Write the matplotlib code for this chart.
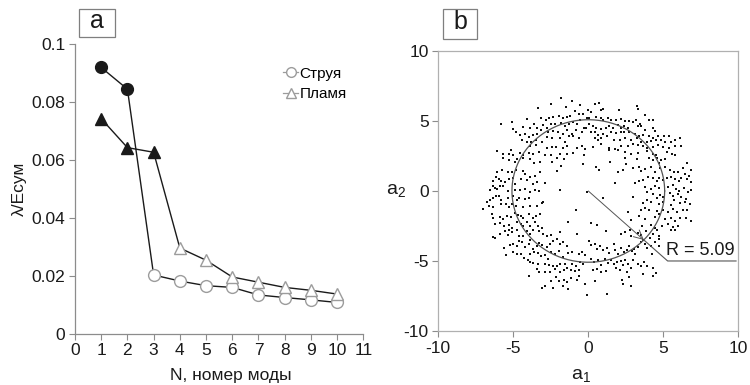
import matplotlib
matplotlib.use("Agg")
import matplotlib.pyplot as plt
from matplotlib.patches import Rectangle
import numpy as np

plt.rcParams['font.family'] = ['Liberation Sans', 'DejaVu Sans']
plt.rcParams['mathtext.fontset'] = 'custom'
plt.rcParams['mathtext.rm'] = 'Liberation Sans'
plt.rcParams['axes.unicode_minus'] = False

# ---- panel a: normalised eigenvalues per mode ----
modes = [1, 2, 3, 4, 5, 6, 7, 8, 9, 10]
jet = [0.0920, 0.0845, 0.0203, 0.0182, 0.0166, 0.0160, 0.0134, 0.0125, 0.0117, 0.0108]
flame = [0.0743, 0.0643, 0.0627, 0.0296, 0.0254, 0.0196, 0.0178, 0.0160, 0.0150, 0.0137]
jet_filled = 2      # leading modes drawn with solid markers
flame_filled = 3
legend_labels = ["Струя", "Пламя"]

# ---- panel b: phase portrait of the first two mode amplitudes ----
radius = 5.09
scatter_points = [
    (-1.82,6.62),(-1.07,6.43),(-2.49,6.19),(-3.35,5.91),(-1.51,6.0),(-0.55,6.14),(-0.91,5.71),(-4.11,5.14),
    (-5.09,4.95),(-5.84,4.81),(-3.15,5.19),(-2.84,5.09),(-2.6,5.24),(-2.33,5.29),(-1.97,5.38),(-1.67,5.19),
    (-1.4,5.29),(-1.22,5.38),(-0.64,5.48),(-0.33,5.52),(-0.11,5.19),(-4.37,4.55),(-3.89,4.52),(-3.64,4.76),
    (-3.4,4.52),(-3.04,4.71),(-2.77,4.48),(-2.47,4.76),(-2.2,4.81),(-1.8,4.86),(-1.53,4.66),(-1.27,4.81),
    (-1.04,4.95),(-0.77,4.76),(-0.55,5.09),(-0.29,4.52),(-5.0,4.43),(-4.82,4.24),(-4.55,4.0),(-4.24,4.05),
    (-3.97,3.86),(-3.67,4.0),(-3.4,4.1),(-3.17,4.33),(-2.69,4.19),(-2.33,4.29),(-2.02,4.24),(-1.71,4.05),
    (-1.4,4.33),(-1.09,4.1),(-0.82,4.33),(-0.44,4.24),(-0.15,4.48),(-4.42,3.62),(-4.11,3.52),(-3.8,3.48),
    (-3.49,3.62),(-3.09,3.52),(-2.73,3.86),(-2.42,3.81),(-1.89,3.76),(-1.57,3.52),(-1.31,3.95),(-1.0,3.95),
    (-0.64,3.76),(-3.89,3.19),(-3.49,3.29),(-2.77,3.1),(-2.42,3.14),(-2.15,3.14),(-1.71,3.05),(-1.4,3.19),
    (-0.77,3.1),(-0.42,3.24),(-0.2,3.0),(-6.11,2.86),(-5.67,2.67),(-5.31,2.67),(-5.17,2.9),(-5.0,2.57),
    (-4.55,2.71),(-4.33,2.57),(-3.93,2.71),(-3.67,2.67),(-3.31,2.76),(-2.87,2.57),(-2.47,2.57),(-1.89,2.62),
    (-1.4,2.67),(-1.0,2.71),(-0.29,2.57),
    (0.42,6.19),(0.73,6.29),(0.96,5.86),(0.87,5.76),(2.03,5.76),(3.23,6.1),(3.31,5.86),(3.76,5.43),
    (-0.02,5.76),(0.2,5.67),(0.07,5.19),(0.51,5.29),(0.83,5.19),(1.0,5.09),(1.31,5.19),(1.53,5.09),
    (1.85,5.09),(2.16,5.14),(2.43,5.0),(2.73,5.0),(2.96,4.9),(3.18,5.09),(3.45,4.76),(3.53,4.66),
    (4.03,5.09),(4.29,5.09),(0.07,4.76),(0.29,4.62),(0.51,4.52),(0.87,4.43),(1.18,4.52),(1.36,4.62),
    (1.62,4.52),(1.98,4.71),(2.16,4.48),(2.38,4.62),(2.65,4.48),(3.31,4.66),(3.76,4.38),(4.33,4.48),
    (4.43,4.29),(0.2,4.19),(0.42,4.24),(0.65,4.0),(1.0,4.05),(1.22,3.95),(1.53,4.24),(1.85,4.14),
    (2.2,4.24),(2.38,4.19),(2.73,4.24),(3.09,4.1),(3.36,3.95),(3.67,4.0),(4.07,3.95),(4.33,3.81),
    (4.65,3.95),(5.05,3.95),(5.4,3.95),(6.11,3.81),(0.42,3.76),(0.65,3.67),(0.87,3.81),(1.71,3.62),
    (2.11,3.67),(2.47,3.76),(2.82,3.67),(3.23,3.81),(3.53,3.52),(3.89,3.52),(4.16,3.57),(4.51,3.62),
    (4.83,3.62),(5.13,3.52),(5.49,3.48),(5.76,3.62),(0.29,3.14),(0.87,3.38),(1.4,3.1),(1.76,3.0),
    (2.2,3.19),(2.65,3.24),(2.96,3.33),(3.31,3.29),(3.63,3.19),(3.89,3.1),(4.33,3.14),(4.65,3.29),
    (5.0,3.14),(5.4,3.1),(5.8,3.24),(6.2,3.19),(2.43,2.76),(2.82,2.67),(3.31,2.71),(3.93,2.86),
    (4.33,2.67),(4.51,2.57),(5.23,2.76),(5.58,2.67),(5.8,2.57),(1.4,2.9),(1.98,2.9),
    (-5.67,2.33),(-5.27,2.24),(-4.87,2.1),(-4.73,2.29),(-4.33,2.38),(-3.89,2.29),(-3.62,2.0),(-3.22,2.1),
    (-2.42,2.1),(-2.07,2.38),(-1.62,2.29),(-0.37,1.9),(-1.8,1.76),(-6.11,1.38),(-5.75,1.48),(-5.35,1.38),
    (-5.09,1.33),(-4.82,1.48),(-4.37,1.43),(-4.2,1.24),(-3.89,1.0),(-3.58,1.1),(-3.22,1.33),(-2.07,1.43),
    (-6.33,0.71),(-6.15,1.0),(-5.97,0.86),(-5.8,0.71),(-5.57,0.62),(-5.31,0.86),(-5.0,0.9),(-4.87,0.52),
    (-4.46,0.86),(-4.11,0.76),(-3.71,0.52),(-3.44,0.67),(-2.87,0.57),(-6.55,0.1),(-6.37,0.33),(-6.2,0.24),
    (-6.06,0.14),(-5.89,0.38),(-5.67,0.33),(-5.35,0.0),(-4.91,0.1),(-4.55,0.05),(-4.2,0.14),(-3.89,-0.05),
    (-3.58,0.05),(-3.31,0.0),(-1.89,0.05),(-0.07,-0.05),(-6.78,-0.76),(-6.55,-0.67),(-6.33,-0.52),
    (-6.15,-0.38),(-5.93,-0.33),(-5.8,-0.62),(-5.35,-0.52),(-5.0,-0.33),(-4.77,-0.67),(-4.6,-0.48),
    (-4.2,-0.57),(-3.93,-0.48),(-2.99,-0.76),(-6.64,-1.05),(-6.33,-1.14),(-5.84,-0.95),(-5.49,-0.9),
    (-5.27,-1.14),(-5.09,-0.95),(-4.82,-1.05),(-4.37,-1.14),(-3.89,-1.05),(-3.44,-1.1),(-3.09,-0.86),
    (-0.82,-1.33),(-7.0,-1.29),(-6.42,-1.67),(-6.33,-1.9),(-5.89,-1.86),(-5.67,-2.0),(-5.44,-1.76),
    (-5.17,-1.86),(-4.91,-1.57),(-4.69,-1.71),(-4.46,-1.76),(-4.33,-1.95),(-3.97,-1.67),(-3.71,-1.95),
    (-3.49,-1.81),(-3.22,-1.62),(-5.89,-2.29),(-6.24,-2.33),(-5.62,-2.48),(-5.31,-2.43),(-5.09,-2.62),
    (-4.73,-2.19),(-4.51,-2.33),(-4.33,-2.52),(-4.06,-2.24),(-3.89,-2.52),(-3.58,-2.19),(-3.35,-2.48),
    (-3.09,-2.62),(-1.35,-2.24),
    (1.45,2.05),(2.43,2.33),(2.51,1.9),(3.27,2.29),(4.07,2.38),(4.33,2.19),(4.56,2.33),(4.87,2.24),
    (4.73,2.0),(5.13,2.29),(0.51,1.71),(0.69,1.48),(1.98,1.38),(2.29,1.52),(3.0,1.62),(3.4,1.71),
    (3.53,1.43),(3.76,1.57),(4.16,1.71),(4.43,1.38),(4.78,1.67),(5.13,1.71),(5.45,1.48),(5.71,1.33),
    (5.98,1.38),(6.33,1.62),(6.56,2.0),(6.83,1.48),(6.43,1.24),(1.76,0.57),(3.09,0.57),(3.4,0.71),
    (3.63,0.81),(3.98,1.0),(4.33,0.9),(4.56,0.71),(4.69,0.95),(4.96,0.76),(5.27,0.9),(5.53,1.0),
    (5.8,0.86),(6.03,0.71),(6.2,0.95),(6.56,0.86),(6.73,1.05),(6.87,0.62),(3.76,0.29),(4.2,0.14),
    (4.47,0.38),(4.73,0.19),(5.31,0.29),(5.67,0.43),(5.85,0.14),(6.03,0.0),(6.38,0.19),(6.65,-0.05),
    (6.87,0.1),(0.96,-0.52),(3.0,-0.43),(3.89,-0.05),(4.33,-0.19),(4.56,-0.52),(4.78,-0.29),(5.0,-0.43),
    (5.45,-0.14),(5.63,-0.33),(5.98,-0.19),(6.2,-0.43),(6.51,-0.57),(3.63,-0.86),(3.89,-0.67),(4.2,-0.76),
    (4.69,-0.9),(5.0,-0.81),(5.49,-1.0),(5.71,-0.67),(6.11,-0.86),(6.43,-0.76),(6.78,-0.9),(2.65,-1.48),
    (3.53,-1.33),(3.76,-1.19),(4.07,-1.38),(4.56,-1.43),(4.96,-1.38),(5.31,-1.48),(5.63,-1.29),
    (5.93,-1.52),(6.29,-1.38),(6.6,-1.33),(2.82,-2.05),(3.36,-1.81),(3.76,-2.0),(4.43,-1.86),(4.73,-1.67),
    (5.13,-2.0),(5.49,-1.9),(5.8,-2.14),(6.11,-1.95),(6.51,-1.95),(6.87,-2.14),(0.16,-2.29),(0.6,-2.43),
    (3.58,-2.48),(4.16,-2.43),(4.43,-2.62),(4.91,-2.48),(5.31,-2.33),(5.67,-2.57),(5.98,-2.48),
    (-6.33,-3.29),(-6.2,-3.38),(-5.89,-3.05),(-5.53,-2.86),(-5.31,-2.76),(-5.09,-2.95),(-5.35,-3.14),
    (-4.77,-2.81),(-4.64,-3.19),(-4.33,-3.24),(-4.06,-2.86),(-3.89,-3.05),(-3.67,-2.81),(-3.31,-2.86),
    (-3.04,-3.05),(-2.77,-3.24),(-2.47,-3.14),(-1.89,-2.95),(-0.77,-3.1),(-5.62,-4.1),(-5.22,-3.86),
    (-5.0,-3.76),(-4.77,-3.9),(-4.64,-3.57),(-4.42,-3.67),(-4.24,-4.0),(-3.97,-3.81),(-3.89,-3.48),
    (-3.71,-4.14),(-3.4,-3.9),(-3.27,-3.71),(-3.09,-3.86),(-2.77,-4.0),(-2.55,-3.76),(-2.33,-3.57),
    (-2.07,-3.43),(-1.89,-3.81),(-1.71,-3.67),(-1.4,-3.95),(-5.49,-4.57),(-5.0,-4.38),(-4.77,-4.52),
    (-4.51,-4.48),(-4.29,-4.81),(-4.02,-4.9),(-3.89,-4.52),(-3.62,-4.33),(-3.35,-4.43),(-3.17,-4.67),
    (-2.87,-4.57),(-2.69,-4.86),(-2.47,-4.38),(-2.2,-4.52),(-1.97,-4.29),(-1.67,-4.71),(-1.35,-4.43),
    (-1.09,-4.33),(-0.64,-4.48),(-0.42,-4.38),(-0.2,-4.57),(-3.89,-5.05),(-3.67,-5.14),(-3.35,-5.24),
    (-2.87,-5.19),(-2.64,-5.29),(-2.38,-5.38),(-2.07,-5.33),(-1.89,-5.24),(-1.58,-5.19),(-1.4,-5.52),
    (-1.09,-5.19),(-0.82,-5.38),(-0.55,-5.05),(-0.33,-5.19),(-3.93,-6.05),(-3.44,-5.57),(-3.31,-5.81),
    (-2.91,-5.76),(-2.55,-5.76),(-2.2,-5.57),(-1.89,-5.76),(-1.62,-5.67),(-1.17,-5.62),(-0.91,-5.71),
    (-0.6,-5.62),(-2.47,-6.43),(-2.15,-6.14),(-1.97,-6.43),(-1.62,-6.33),(-1.4,-6.52),(-1.13,-6.19),
    (-0.77,-6.33),(-0.64,-6.1),(-3.09,-6.9),(-2.87,-6.81),(-2.38,-6.95),(-1.71,-6.76),(-1.35,-7.0),
    (-0.24,-6.67),(-0.07,-7.43),
    (1.18,-2.86),(2.16,-3.1),(2.47,-2.95),(2.78,-2.76),(2.87,-3.19),(3.31,-3.0),(3.53,-3.14),(3.85,-2.86),
    (4.11,-3.33),(4.33,-3.05),(4.6,-2.81),(4.73,-3.19),(5.53,-2.76),(5.8,-2.81),(0.07,-3.57),(0.2,-3.86),
    (0.42,-3.76),(0.6,-4.14),(0.78,-3.9),(0.96,-4.24),(1.27,-4.05),(1.36,-4.43),(1.71,-3.76),(1.76,-4.19),
    (1.98,-4.48),(2.2,-4.05),(2.38,-4.33),(2.6,-4.19),(2.73,-3.9),(2.91,-4.29),(3.05,-4.14),(3.09,-4.52),
    (3.31,-4.0),(3.49,-3.67),(3.67,-3.52),(3.8,-3.76),(3.89,-4.05),(4.16,-3.9),(4.25,-4.52),(4.43,-3.67),
    (4.69,-3.9),(4.73,-3.43),(0.16,-4.86),(0.38,-5.1),(0.65,-4.95),(0.87,-5.29),(1.13,-4.86),(1.31,-5.14),
    (1.53,-4.9),(1.71,-5.24),(1.89,-5.1),(2.16,-5.0),(2.29,-5.29),(2.47,-4.9),(2.65,-5.19),(3.0,-4.95),
    (3.31,-5.19),(3.53,-5.33),(3.71,-5.1),(3.89,-5.38),(0.29,-5.62),(0.6,-5.57),(0.87,-5.81),(1.18,-5.71),
    (1.85,-5.52),(2.11,-5.67),(2.83,-5.52),(3.63,-5.9),(4.33,-5.52),(4.51,-5.86),(0.42,-6.43),(2.25,-6.33),
    (2.56,-5.81),(2.73,-6.14),(4.29,-6.05),(1.27,-7.33),(2.29,-6.67),(2.87,-6.76),
]

ink = '#1a1a1a'
hollow = '#9c9c9c'
spine_col = '#8c8c8c'

fig = plt.figure(figsize=(7.5, 3.85), dpi=100)


def panel_tag(letter, x0, y0, w, h):
    """Boxed panel letter, box given in figure fractions."""
    fig.patches.append(Rectangle((x0, y0), w, h, transform=fig.transFigure,
                                 fc='white', ec='#7f7f7f', lw=0.9))
    fig.text(x0 + w / 2, y0 + h / 2 + 0.004, letter, fontsize=18, color=ink,
             ha='center', va='center')


# ---------------- panel a ----------------
ax1 = fig.add_axes([0.100, 0.1332, 0.3844, 0.7517])
ms = 8.5
ax1.plot(modes, jet, color=ink, lw=1.0, zorder=2)
ax1.plot(modes, flame, color=ink, lw=1.0, zorder=2)
ax1.plot(modes[:jet_filled], jet[:jet_filled], 'o', ms=ms, color=ink, zorder=3)
ax1.plot(modes[jet_filled:], jet[jet_filled:], 'o', ms=ms, mfc='white', mec=hollow, mew=1.0, zorder=3)
ax1.plot(modes[:flame_filled], flame[:flame_filled], '^', ms=ms, color=ink, zorder=3)
ax1.plot(modes[flame_filled:], flame[flame_filled:], '^', ms=ms, mfc='white', mec=hollow, mew=1.0, zorder=3)

# legend entries: hollow marker on a short line segment
h_jet, = ax1.plot([], [], '-o', color=hollow, lw=0.9, ms=7, mfc='white', mec=hollow)
h_flame, = ax1.plot([], [], '-^', color=hollow, lw=0.9, ms=7, mfc='white', mec=hollow)
ax1.legend([h_jet, h_flame], legend_labels, loc='upper right', frameon=False,
           fontsize=11, handlelength=1.0, handletextpad=0.1, labelspacing=0.45,
           bbox_to_anchor=(0.975, 0.955), borderaxespad=0.2)

ax1.set_xlim(0, 11)
ax1.set_ylim(0, 0.1)
ax1.set_xticks(range(0, 12))
ax1.set_yticks([0, 0.02, 0.04, 0.06, 0.08, 0.1])
ax1.set_yticklabels(['0', '0.02', '0.04', '0.06', '0.08', '0.1'])
for s in ['top', 'right']:
    ax1.spines[s].set_visible(False)
for s in ['left', 'bottom']:
    ax1.spines[s].set_color(spine_col)
    ax1.spines[s].set_linewidth(0.9)
ax1.tick_params(direction='out', length=4, width=0.8, color=spine_col, labelsize=12.5,
                labelcolor=ink, pad=3)
ax1.set_xlabel('N, номер моды', fontsize=12.5, color=ink)
ax1.xaxis.set_label_coords(0.54, -0.12)
ax1.set_ylabel('λ/Eсум', fontsize=12.5, color=ink, labelpad=3)
panel_tag('a', 0.1053, 0.9039, 0.048, 0.0727)

# ---------------- panel b ----------------
ax2 = fig.add_axes([0.5844, 0.1403, 0.4, 0.7273])
pts = np.array(scatter_points)
ax2.plot(pts[:, 0], pts[:, 1], 's', ms=1.9, color='#111111', mew=0, zorder=2)

theta = np.linspace(0, 2 * np.pi, 400)
ax2.plot(radius * np.cos(theta), radius * np.sin(theta), color='#555555', lw=0.9, zorder=3)

# radius pointer with a leader line to the label
corner = (5.29, -5.0)
ang = np.arctan2(corner[1], corner[0])
tip = (radius * np.cos(ang), radius * np.sin(ang))
ax2.annotate('', xy=tip, xytext=(0, 0),
             arrowprops=dict(arrowstyle='->', color='#555555', lw=0.7,
                             mutation_scale=16, shrinkA=0, shrinkB=0), zorder=4)
ax2.plot([tip[0], corner[0], 9.85], [tip[1], corner[1], corner[1]], color='#555555', lw=0.8, zorder=4)
ax2.text(5.2, -4.86, f'R = {radius:.2f}', fontsize=13, color=ink, ha='left', va='bottom', zorder=5)

ax2.set_xlim(-10, 10)
ax2.set_ylim(-10, 10)
ax2.set_xticks([-10, -5, 0, 5, 10])
ax2.set_yticks([-10, -5, 0, 5, 10])
for s in ax2.spines.values():
    s.set_color('#b0b0b0')
    s.set_linewidth(0.9)
ax2.tick_params(direction='out', length=4, width=0.8, color=spine_col, labelsize=12.5,
                labelcolor=ink, pad=3)
ax2.set_xlabel(r'a$_\mathregular{1}$', fontsize=14, color=ink)
ax2.xaxis.set_label_coords(0.476, -0.13)
ax2.set_ylabel(r'a$_\mathregular{2}$', fontsize=14, color=ink, rotation=0, va='center', ha='center')
ax2.yaxis.set_label_coords(-0.14, 0.5)
panel_tag('b', 0.5907, 0.8987, 0.0453, 0.0779)

fig.savefig('out.png', dpi=100, facecolor='white')
